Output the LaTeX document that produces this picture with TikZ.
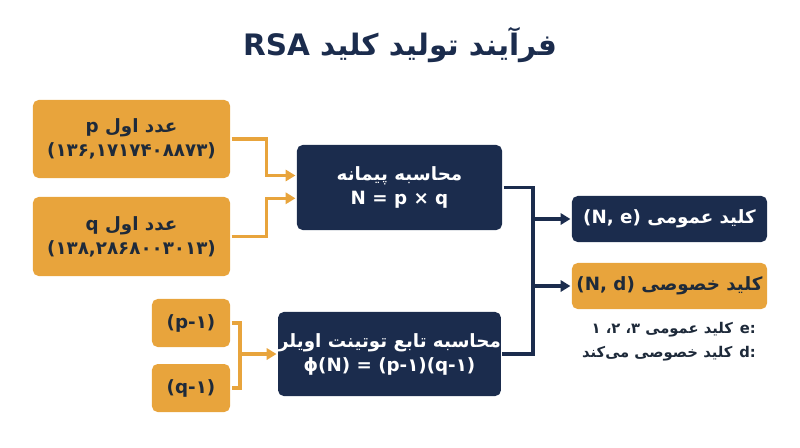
\documentclass[tikz,border=0pt]{standalone}
\usepackage{fontspec}
\setmainfont[Script=Arabic]{DejaVu Sans}
\usetikzlibrary{arrows.meta}
\definecolor{orangebox}{HTML}{E8A43C}
\definecolor{navybox}{HTML}{1B2C4D}
\definecolor{darktext}{HTML}{1E2A3A}
\TeXXeTstate=1
\newcommand{\fa}[1]{\beginR #1\endR}
\newcommand{\en}[1]{\beginL #1\endL}
\begin{document}
\begin{tikzpicture}[x=0.025cm,y=-0.025cm,thick,line width=2.2pt,>={Triangle[length=7pt,width=8pt]},
  obox/.style={rounded corners=4pt,fill=orangebox,text=darktext,font=\bfseries\fontsize{13}{17}\selectfont,align=center,inner sep=0pt},
  nbox/.style={rounded corners=4pt,fill=navybox,text=white,font=\bfseries\fontsize{13}{17}\selectfont,align=center,inner sep=0pt},
  oline/.style={draw=orangebox},
  nline/.style={draw=navybox}]
    \useasboundingbox (0,0) rectangle (800,447);
    %title
    \node (title) at (400,45)[text=navybox,font=\bfseries\fontsize{21}{25}\selectfont]{\fa{فرآیند تولید کلید \en{RSA}}};

    %input boxes
    \node (p) at (131.5,139)[obox,minimum width=4.925cm,minimum height=1.95cm]{\fa{عدد اول \en{p}}\\\en{(۱۳۶,۱۷۱۷۴۰۸۸۷۳)}};
    \node (q) at (131.5,236.5)[obox,minimum width=4.925cm,minimum height=1.975cm]{\fa{عدد اول \en{q}}\\\en{(۱۳۸,۲۸۶۸۰۰۳۰۱۳)}};
    \node (pm) at (191,323)[obox,minimum width=1.95cm,minimum height=1.2cm]{\en{(p-۱)}};
    \node (qm) at (191,388)[obox,minimum width=1.95cm,minimum height=1.2cm]{\en{(q-۱)}};

    %computation boxes
    \node (mod) at (399.5,187.5)[nbox,minimum width=5.125cm,minimum height=2.125cm]{\fa{محاسبه پیمانه}\\\en{N = p × q}};
    \node (tot) at (389.5,354)[nbox,minimum width=4.625cm,minimum height=2.1cm]{\fa{محاسبه تابع توتینت اویلر}\\\en{ϕ(N) = (p-۱)(q-۱)}};

    %keys
    \node (pub) at (669.5,219)[nbox,minimum width=4.875cm,minimum height=1.15cm]{\fa{کلید عمومی \en{(N, e)}}};
    \node (priv) at (669.5,286)[obox,minimum width=4.875cm,minimum height=1.15cm]{\fa{کلید خصوصی \en{(N, d)}}};

    %notes
    \node (note) at (762,342)[anchor=east,text=darktext,align=right,font=\bfseries\fontsize{10.5}{17}\selectfont]{\fa{\en{e:} کلید عمومی ۳، ۲، ۱}\\\fa{\en{d:} کلید خصوصی می‌کند}};

    %orange connectors
    \draw [oline,->] (p.east) -- ++(35,0) |- ([yshift=0.3cm]mod.west);
    \draw [oline,->] (q.east) -- ++(35,0) |- ([yshift=-0.27cm]mod.west);
    \coordinate (jn) at (240,354);
    \draw [oline] (pm.east) -| (jn) |- (qm.east);
    \draw [oline,->] (jn) -- (tot.west);

    %navy connectors
    \coordinate (bus) at (533,220);
    \draw [nline] (mod.east) -| (bus) |- (tot.east);
    \draw [nline,->] (bus |- pub.west) -- (pub.west);
    \draw [nline,->] (bus |- priv.west) -- (priv.west);
\end{tikzpicture}
\end{document}
